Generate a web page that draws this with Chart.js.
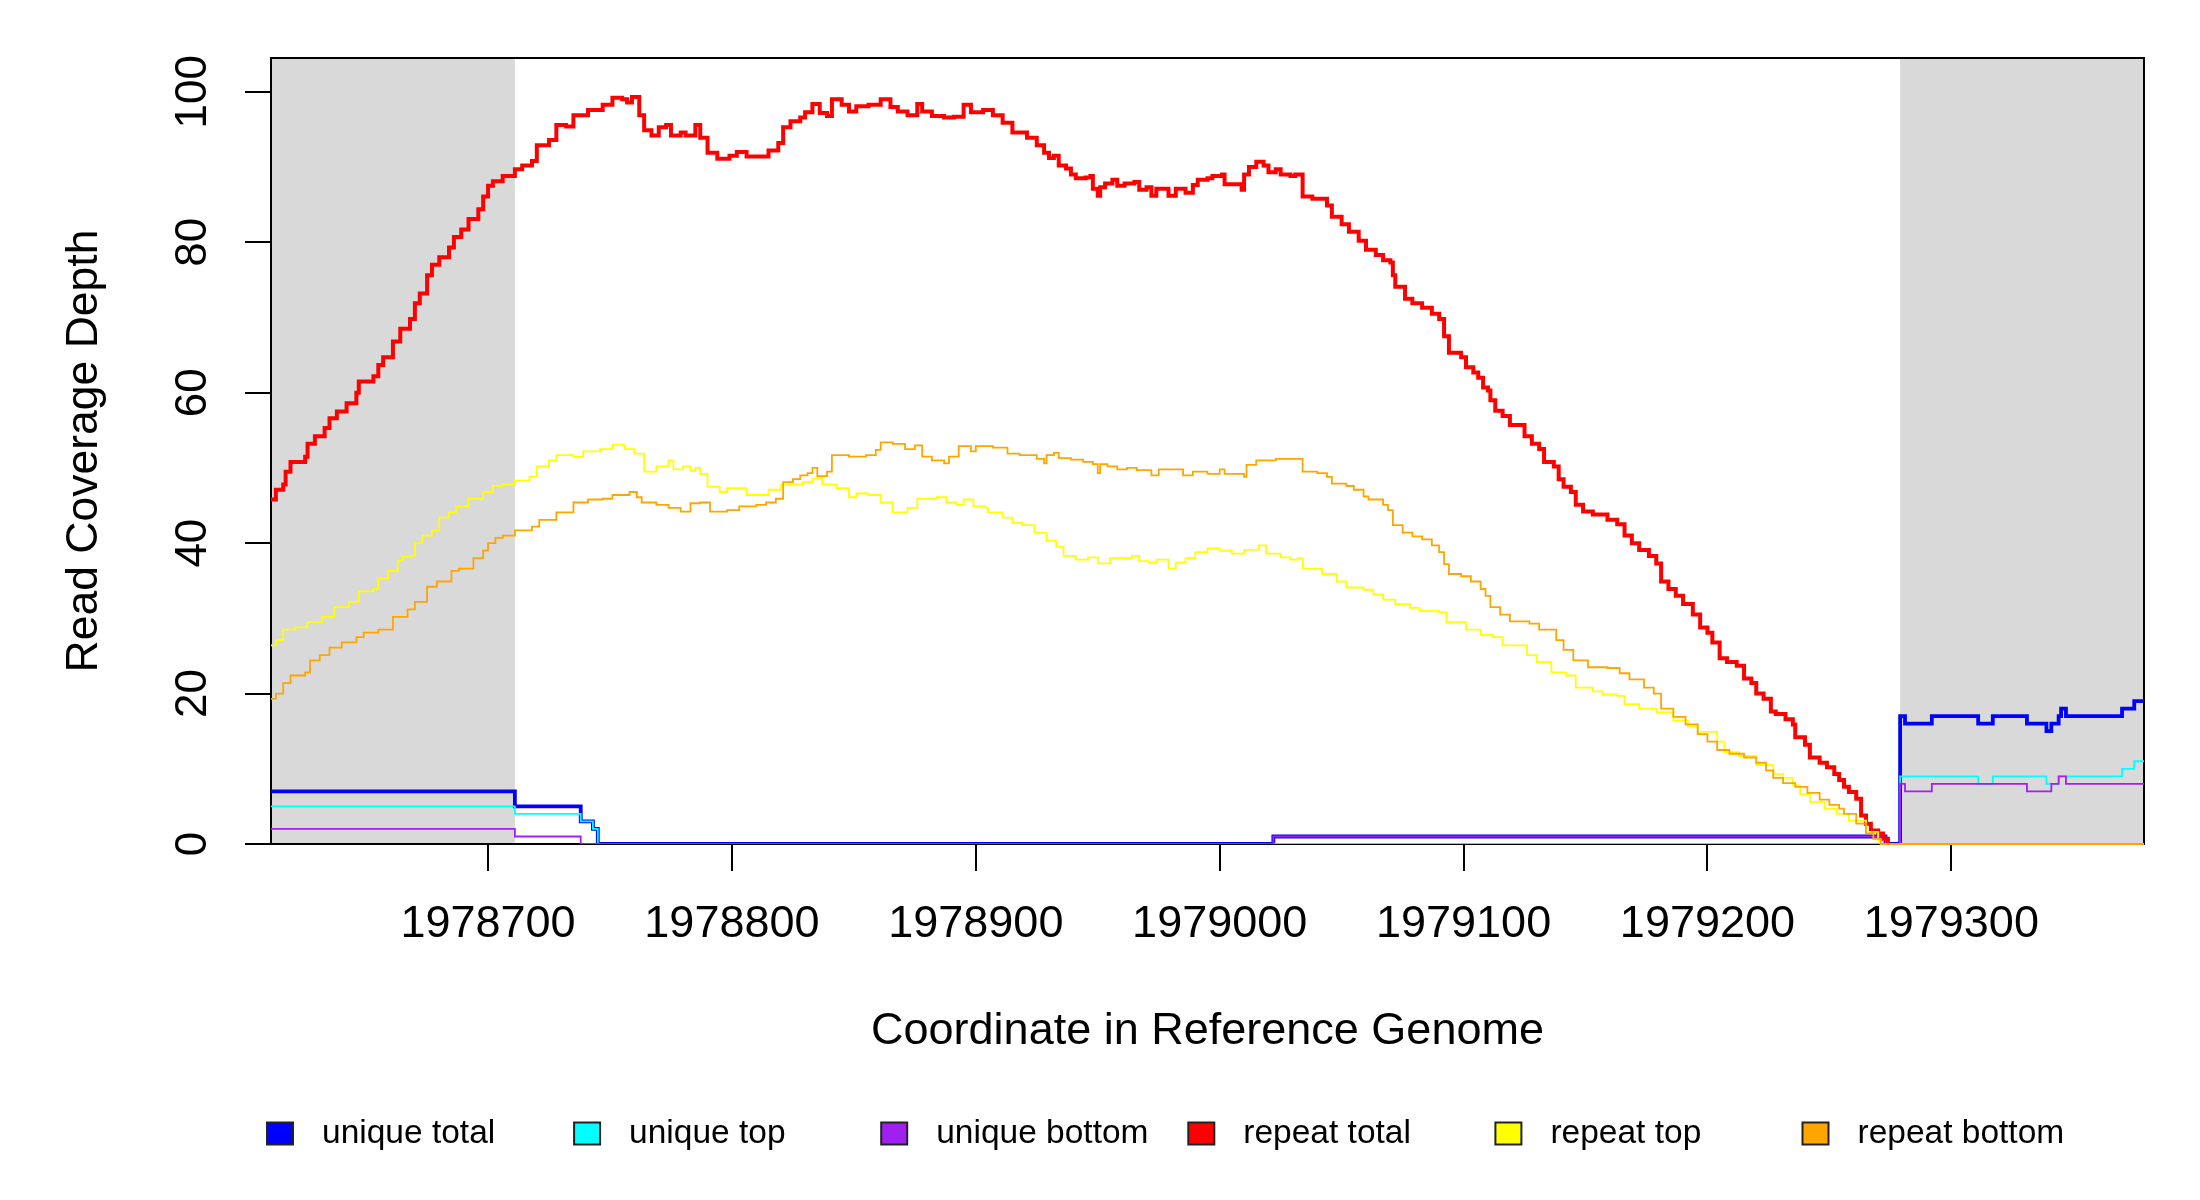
<!DOCTYPE html>
<html>
<head>
<meta charset="utf-8">
<title>Read Coverage Depth</title>
<script src="https://cdn.jsdelivr.net/npm/chart.js"></script>
<style>
  html, body { margin: 0; padding: 0; background: #ffffff; }
  #wrap { width: 2200px; height: 1200px; }
</style>
</head>
<body>
<div id="wrap"><canvas id="cov" width="2200" height="1200"></canvas></div>
<script>
// axis ranges and ticks
const xMin = 1978611;
const xMax = 1979379;
const xTicks = [1978700, 1978800, 1978900, 1979000, 1979100, 1979200, 1979300];
const yMax = 104.5;
const yTicks = [0, 20, 40, 60, 80, 100];

// grey bands at both ends of the window
const maskedRegions = [[1978611, 1978711], [1979279, 1979379]];

const seriesNames = ['unique total', 'unique top', 'unique bottom', 'repeat total', 'repeat top', 'repeat bottom'];
const seriesColors = ['#0000FF', '#00FFFF', '#A020F0', '#FF0000', '#FFFF00', '#FFA500'];

// each value holds from its position up to the next position
const uniqueTotalPos = [1978611, 1978711, 1978738, 1978743, 1978745, 1979022, 1979273, 1979279, 1979281, 1979292,
  1979311, 1979317, 1979331, 1979339, 1979341, 1979344, 1979345, 1979347, 1979370, 1979375, 1979379];
const uniqueTotalDepth = [7, 5, 3, 2, 0, 1, 0, 17, 16, 17, 16, 17, 16, 15, 16, 17, 18, 17, 18, 19, 19];

const uniqueTopPos = [1978611, 1978711, 1978738, 1978743, 1978745, 1979279, 1979311, 1979317, 1979339, 1979344,
  1979370, 1979375, 1979379];
const uniqueTopDepth = [5, 4, 3, 2, 0, 9, 8, 9, 8, 9, 10, 11, 11];

const uniqueBottomPos = [1978611, 1978711, 1978738, 1979022, 1979273, 1979279, 1979281, 1979292, 1979331, 1979341,
  1979344, 1979347, 1979379];
const uniqueBottomDepth = [2, 1, 0, 1, 0, 8, 7, 8, 7, 8, 9, 8, 8];

const repeatTotalPos = [
  1978611, 1978613, 1978616, 1978617, 1978619, 1978625, 1978626, 1978629, 1978633, 1978635,
  1978638, 1978642, 1978646, 1978647, 1978653, 1978655, 1978657, 1978661, 1978664, 1978668,
  1978670, 1978672, 1978675, 1978677, 1978680, 1978684, 1978686, 1978689, 1978692, 1978696,
  1978698, 1978700, 1978702, 1978706, 1978711, 1978714, 1978718, 1978720, 1978725, 1978728,
  1978732, 1978735, 1978741, 1978747, 1978751, 1978755, 1978757, 1978759, 1978762, 1978764,
  1978767, 1978770, 1978773, 1978775, 1978779, 1978781, 1978785, 1978787, 1978790, 1978794,
  1978799, 1978802, 1978806, 1978815, 1978819, 1978821, 1978824, 1978828, 1978830, 1978833,
  1978836, 1978839, 1978841, 1978845, 1978848, 1978851, 1978856, 1978861, 1978865, 1978868,
  1978872, 1978876, 1978878, 1978882, 1978887, 1978891, 1978895, 1978898, 1978903, 1978907,
  1978911, 1978915, 1978921, 1978925, 1978928, 1978930, 1978932, 1978934, 1978937, 1978939,
  1978941, 1978945, 1978947, 1978948, 1978950, 1978951, 1978953, 1978956, 1978958, 1978961,
  1978965, 1978967, 1978970, 1978972, 1978974, 1978979, 1978982, 1978986, 1978989, 1978991,
  1978995, 1978997, 1979001, 1979002, 1979009, 1979010, 1979012, 1979015, 1979018, 1979020,
  1979023, 1979025, 1979029, 1979031, 1979034, 1979038, 1979044, 1979046, 1979050, 1979053,
  1979057, 1979060, 1979064, 1979067, 1979070, 1979071, 1979072, 1979076, 1979079, 1979083,
  1979087, 1979090, 1979092, 1979094, 1979099, 1979101, 1979104, 1979106, 1979108, 1979110,
  1979111, 1979113, 1979116, 1979119, 1979125, 1979128, 1979131, 1979133, 1979137, 1979139,
  1979141, 1979144, 1979146, 1979149, 1979153, 1979159, 1979163, 1979166, 1979169, 1979172,
  1979176, 1979179, 1979181, 1979184, 1979187, 1979190, 1979194, 1979197, 1979200, 1979202,
  1979205, 1979208, 1979212, 1979215, 1979218, 1979220, 1979223, 1979226, 1979228, 1979232,
  1979235, 1979236, 1979240, 1979242, 1979246, 1979249, 1979252, 1979254, 1979256, 1979258,
  1979261, 1979263, 1979265, 1979267, 1979270, 1979272, 1979274];
const repeatTotalDepth = [
  45.8, 47.1, 47.8, 49.5, 50.8, 51.5, 53.2, 54.2, 55.3, 56.6,
  57.5, 58.6, 60.0, 61.5, 62.2, 63.7, 64.7, 66.8, 68.5, 69.8,
  71.9, 73.2, 75.6, 77.0, 78.0, 79.3, 80.7, 81.7, 83.1, 84.4,
  86.1, 87.5, 88.1, 88.8, 89.7, 90.2, 90.8, 92.9, 93.6, 95.6,
  95.4, 96.9, 97.6, 98.3, 99.2, 99.0, 98.6, 99.3, 96.9, 94.9,
  94.2, 95.3, 95.6, 94.2, 94.6, 94.2, 95.6, 93.9, 91.9, 91.1,
  91.5, 92.0, 91.4, 92.2, 93.2, 95.3, 96.1, 96.6, 97.3, 98.4,
  97.2, 96.8, 99.0, 98.3, 97.4, 98.1, 98.3, 99.0, 98.0, 97.4,
  96.9, 98.4, 97.4, 96.8, 96.6, 96.7, 98.3, 97.3, 97.6, 96.9,
  95.9, 94.6, 93.9, 92.9, 91.9, 91.2, 91.5, 90.2, 89.8, 89.0,
  88.5, 88.6, 88.8, 87.1, 86.2, 87.3, 87.8, 88.3, 87.5, 87.8,
  88.0, 87.0, 87.3, 86.2, 87.1, 86.2, 87.1, 86.6, 87.6, 88.3,
  88.5, 88.8, 89.0, 87.7, 87.0, 89.0, 90.0, 90.7, 90.2, 89.3,
  89.7, 89.0, 88.8, 89.0, 86.1, 85.8, 84.9, 83.4, 82.4, 81.4,
  80.2, 79.0, 78.3, 77.6, 77.3, 75.6, 74.1, 72.5, 71.9, 71.3,
  70.5, 69.8, 67.5, 65.3, 64.7, 63.4, 62.7, 62.0, 60.7, 60.3,
  59.0, 57.6, 56.9, 55.7, 54.2, 53.2, 52.5, 50.8, 50.2, 48.5,
  47.5, 46.8, 45.1, 44.2, 43.8, 43.1, 42.5, 41.0, 40.0, 39.1,
  38.3, 37.3, 34.9, 33.9, 33.0, 31.9, 30.5, 28.8, 28.1, 26.8,
  24.7, 24.2, 23.7, 22.0, 21.4, 20.0, 19.3, 17.6, 17.3, 16.6,
  15.9, 14.2, 13.2, 11.5, 10.8, 10.2, 9.3, 8.5, 7.6, 6.9,
  6.0, 3.8, 2.7, 1.8, 1.4, 0.7, 0];

const repeatTopPos = [
  1978611, 1978613, 1978616, 1978621, 1978626, 1978632, 1978637, 1978643, 1978647, 1978653,
  1978655, 1978659, 1978663, 1978665, 1978668, 1978670, 1978673, 1978677, 1978680, 1978684,
  1978687, 1978692, 1978698, 1978702, 1978706, 1978711, 1978717, 1978720, 1978725, 1978728,
  1978735, 1978739, 1978746, 1978751, 1978756, 1978760, 1978764, 1978769, 1978774, 1978776,
  1978780, 1978783, 1978785, 1978787, 1978790, 1978795, 1978798, 1978806, 1978815, 1978820,
  1978824, 1978829, 1978833, 1978837, 1978843, 1978848, 1978851, 1978856, 1978861, 1978866,
  1978872, 1978876, 1978884, 1978888, 1978892, 1978895, 1978899, 1978904, 1978905, 1978911,
  1978915, 1978919, 1978924, 1978929, 1978933, 1978936, 1978941, 1978946, 1978950, 1978955,
  1978964, 1978967, 1978971, 1978974, 1978979, 1978982, 1978986, 1978990, 1978995, 1979000,
  1979005, 1979010, 1979016, 1979019, 1979025, 1979029, 1979032, 1979034, 1979042, 1979048,
  1979052, 1979059, 1979063, 1979067, 1979072, 1979078, 1979082, 1979090, 1979093, 1979101,
  1979107, 1979112, 1979116, 1979126, 1979130, 1979136, 1979142, 1979146, 1979153, 1979157,
  1979163, 1979166, 1979172, 1979179, 1979186, 1979192, 1979196, 1979204, 1979207, 1979213,
  1979220, 1979227, 1979231, 1979235, 1979238, 1979242, 1979248, 1979253, 1979258, 1979265,
  1979270, 1979271];
const repeatTopDepth = [
  26.4, 27.1, 28.5, 28.8, 29.5, 30.2, 31.5, 32.2, 33.6, 33.9,
  35.3, 36.3, 37.6, 38.2, 38.3, 40.0, 41.0, 41.7, 43.4, 44.1,
  44.9, 45.9, 46.8, 47.6, 47.8, 48.3, 48.8, 50.2, 51.0, 51.7,
  51.5, 52.2, 52.5, 53.1, 52.5, 51.9, 49.5, 50.2, 51.0, 49.8,
  50.2, 49.6, 50.0, 49.2, 47.5, 46.8, 47.3, 46.4, 47.1, 47.7,
  47.8, 48.1, 48.6, 47.8, 47.3, 46.1, 46.6, 46.4, 45.4, 44.1,
  44.7, 45.9, 46.1, 45.4, 45.1, 45.8, 44.9, 44.7, 44.1, 43.4,
  42.7, 42.4, 41.4, 40.3, 39.5, 38.3, 37.8, 38.1, 37.3, 38.0,
  38.3, 37.6, 37.4, 37.8, 36.6, 37.4, 38.0, 38.8, 39.3, 39.0,
  38.6, 39.1, 39.7, 38.6, 38.1, 37.8, 38.0, 36.6, 35.9, 34.9,
  34.1, 33.8, 33.2, 32.5, 31.9, 31.4, 31.0, 30.8, 29.5, 28.5,
  27.8, 27.5, 26.4, 25.1, 24.2, 22.8, 22.4, 20.8, 20.3, 19.9,
  19.7, 18.6, 18.0, 17.5, 16.4, 15.6, 14.9, 13.6, 12.2, 11.7,
  10.5, 9.3, 8.8, 7.8, 6.6, 5.6, 4.7, 4.0, 3.1, 1.6,
  0.5, 0];

const repeatBottomPos = [
  1978611, 1978613, 1978616, 1978619, 1978625, 1978627, 1978631, 1978635, 1978640, 1978646,
  1978649, 1978655, 1978661, 1978667, 1978670, 1978675, 1978679, 1978685, 1978688, 1978694,
  1978698, 1978700, 1978703, 1978706, 1978711, 1978718, 1978721, 1978728, 1978735, 1978741,
  1978747, 1978751, 1978758, 1978761, 1978763, 1978769, 1978774, 1978779, 1978783, 1978787,
  1978791, 1978798, 1978803, 1978810, 1978814, 1978818, 1978821, 1978825, 1978828, 1978831,
  1978833, 1978835, 1978839, 1978841, 1978848, 1978855, 1978859, 1978861, 1978866, 1978871,
  1978875, 1978878, 1978882, 1978887, 1978889, 1978893, 1978898, 1978900, 1978907, 1978913,
  1978918, 1978925, 1978928, 1978929, 1978932, 1978934, 1978939, 1978944, 1978948, 1978950,
  1978951, 1978954, 1978958, 1978962, 1978966, 1978972, 1978975, 1978985, 1978989, 1978995,
  1979000, 1979002, 1979010, 1979011, 1979015, 1979023, 1979034, 1979040, 1979044, 1979046,
  1979052, 1979055, 1979059, 1979061, 1979067, 1979069, 1979071, 1979075, 1979079, 1979083,
  1979087, 1979090, 1979092, 1979094, 1979099, 1979103, 1979107, 1979109, 1979111, 1979115,
  1979119, 1979127, 1979131, 1979138, 1979141, 1979145, 1979151, 1979159, 1979164, 1979168,
  1979174, 1979178, 1979181, 1979186, 1979191, 1979196, 1979200, 1979204, 1979209, 1979215,
  1979220, 1979224, 1979227, 1979231, 1979236, 1979241, 1979246, 1979250, 1979254, 1979256,
  1979261, 1979265, 1979268, 1979271, 1979379];
const repeatBottomDepth = [
  19.3, 20.0, 21.4, 22.4, 22.8, 24.4, 25.1, 26.1, 26.8, 27.5,
  28.1, 28.5, 30.2, 31.2, 32.2, 34.2, 34.9, 36.3, 36.6, 38.0,
  39.0, 40.0, 40.7, 41.0, 41.7, 42.2, 43.1, 44.1, 45.4, 45.8,
  45.9, 46.4, 46.8, 46.1, 45.4, 45.1, 44.7, 44.2, 45.3, 45.4,
  44.2, 44.4, 44.9, 45.1, 45.4, 45.9, 48.1, 48.5, 49.0, 49.3,
  50.0, 48.9, 49.5, 51.7, 51.5, 51.7, 52.4, 53.4, 53.2, 52.5,
  53.0, 51.5, 51.0, 50.6, 51.5, 52.9, 52.2, 52.9, 52.7, 51.9,
  51.7, 51.2, 50.6, 51.7, 52.0, 51.3, 51.1, 50.8, 50.5, 49.3,
  50.5, 50.2, 49.8, 50.0, 49.7, 49.0, 49.8, 49.0, 49.5, 49.2,
  49.8, 49.2, 48.8, 50.4, 51.0, 51.2, 49.5, 49.3, 48.8, 47.9,
  47.6, 47.1, 46.2, 45.8, 45.1, 44.4, 42.4, 41.4, 40.9, 40.5,
  39.7, 38.8, 37.2, 35.9, 35.6, 34.9, 33.9, 33.0, 31.5, 30.5,
  29.6, 29.3, 28.5, 27.1, 25.8, 24.4, 23.5, 23.4, 22.7, 21.9,
  20.8, 20.0, 18.0, 16.9, 15.9, 14.6, 13.6, 12.5, 12.0, 11.5,
  10.8, 9.8, 8.8, 8.1, 7.6, 6.8, 5.9, 5.2, 4.7, 4.0,
  2.7, 1.4, 0.7, 0, 0];

const FONT = '"Liberation Sans", Arial, Helvetica, sans-serif';

function steps(pos, depth) {
  return pos.map((p, i) => ({ x: p, y: depth[i] }));
}

const seriesData = [
  steps(uniqueTotalPos, uniqueTotalDepth),
  steps(uniqueTopPos, uniqueTopDepth),
  steps(uniqueBottomPos, uniqueBottomDepth),
  steps(repeatTotalPos, repeatTotalDepth),
  steps(repeatTopPos, repeatTopDepth),
  steps(repeatBottomPos, repeatBottomDepth)
];
const seriesWidths = [3.8, 1.8, 1.8, 4, 1.8, 1.8];

// later series are painted over earlier ones, as in the original plot;
// repeat bottom (drawn last) may spill a little below the frame along zero
const datasets = seriesData.map((d, i) => {
  const ds = {
    label: seriesNames[i],
    data: d,
    borderColor: seriesColors[i],
    backgroundColor: seriesColors[i],
    borderWidth: seriesWidths[i],
    stepped: 'before',
    pointRadius: 0,
    fill: false,
    order: seriesNames.length - i
  };
  if (i === seriesNames.length - 1) ds.clip = { left: 0, top: 0, right: 0, bottom: 3 };
  return ds;
});

// grey bands and the plot frame, both under the lines
const shadePlugin = {
  id: 'shade',
  beforeDatasetsDraw(chart) {
    const { ctx, chartArea, scales } = chart;
    ctx.save();
    ctx.fillStyle = '#D9D9D9';
    maskedRegions.forEach(([a, b]) => {
      const x1 = scales.x.getPixelForValue(a);
      const x2 = scales.x.getPixelForValue(b);
      ctx.fillRect(x1, chartArea.top, x2 - x1, chartArea.bottom - chartArea.top);
    });
    ctx.strokeStyle = '#000';
    ctx.lineWidth = 2;
    ctx.strokeRect(chartArea.left, chartArea.top, chartArea.right - chartArea.left, chartArea.bottom - chartArea.top);
    ctx.restore();
  }
};

// vertical y labels and the legend row
const decorPlugin = {
  id: 'decor',
  afterDraw(chart) {
    const { ctx, scales } = chart;
    ctx.save();
    ctx.fillStyle = '#000';
    ctx.font = '44px ' + FONT;
    ctx.textAlign = 'center';
    ctx.textBaseline = 'middle';
    yTicks.forEach(v => {
      ctx.save();
      ctx.translate(194, scales.y.getPixelForValue(v));
      ctx.rotate(-Math.PI / 2);
      ctx.fillText(String(v), 0, 0);
      ctx.restore();
    });

    const legendLeft = 267, legendStep = 307.1, legendY = 1133.5;
    ctx.font = '33.5px ' + FONT;
    ctx.textAlign = 'left';
    seriesNames.forEach((name, i) => {
      const bx = legendLeft + i * legendStep;
      ctx.fillStyle = seriesColors[i];
      ctx.fillRect(bx, legendY - 11, 26, 22);
      ctx.lineWidth = 2;
      ctx.strokeStyle = '#222';
      ctx.strokeRect(bx, legendY - 11, 26, 22);
      ctx.fillStyle = '#000';
      ctx.fillText(name, bx + 55, legendY);
    });
    ctx.restore();
  }
};

new Chart(document.getElementById('cov'), {
  type: 'line',
  data: { datasets },
  options: {
    responsive: false,
    animation: false,
    devicePixelRatio: 1,
    layout: { padding: { top: 58, right: 56, left: 0, bottom: 0 } },
    plugins: { legend: { display: false }, tooltip: { enabled: false } },
    scales: {
      x: {
        type: 'linear',
        min: xMin,
        max: xMax,
        afterBuildTicks: s => { s.ticks = xTicks.map(v => ({ value: v })); },
        afterFit: s => { s.height = 356; },
        ticks: {
          color: '#000',
          font: { family: FONT, size: 45 },
          padding: 27,
          maxRotation: 0,
          autoSkip: false,
          callback: v => String(v)
        },
        grid: { drawOnChartArea: false, drawTicks: true, tickLength: 27, color: '#000', lineWidth: 2 },
        border: { display: false },
        title: {
          display: true,
          text: 'Coordinate in Reference Genome',
          color: '#000',
          font: { family: FONT, size: 45 },
          padding: { top: 0, bottom: 141 }
        }
      },
      y: {
        type: 'linear',
        min: 0,
        max: yMax,
        afterBuildTicks: s => { s.ticks = yTicks.map(v => ({ value: v })); },
        afterFit: s => { s.width = 271; },
        ticks: { display: false },
        grid: { drawOnChartArea: false, drawTicks: true, tickLength: 26, color: '#000', lineWidth: 2 },
        border: { display: false },
        title: {
          display: true,
          text: 'Read Coverage Depth',
          color: '#000',
          font: { family: FONT, size: 44.5 },
          padding: { top: 58, bottom: 0 }
        }
      }
    }
  },
  plugins: [shadePlugin, decorPlugin]
});
</script>
</body>
</html>
